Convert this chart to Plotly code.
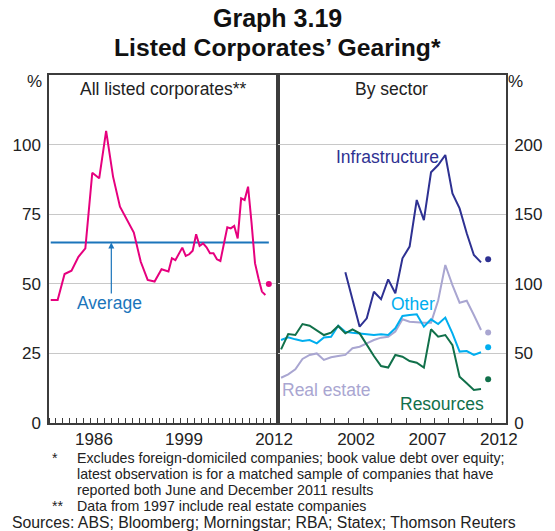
import plotly.graph_objects as go

# Left panel: all listed corporates (annual to 1996, half-yearly after)
all_dates = [1980.25, 1981.25, 1982.25, 1983.25, 1984.25, 1985.25, 1986.25, 1987.25,
             1988.25, 1989.25, 1990.25, 1991.25, 1992.25, 1993.25, 1994.25, 1995.25,
             1996.25, 1997.25, 1997.75, 1998.25, 1998.75, 1999.25, 1999.75, 2000.25,
             2000.75, 2001.25, 2001.75, 2002.25, 2002.75, 2003.25, 2003.75, 2004.25,
             2004.75, 2005.25, 2005.75, 2006.25, 2006.75, 2007.25, 2007.75, 2008.25,
             2008.75, 2009.25, 2009.75, 2010.25, 2010.75, 2011.25]
all_corp = [44.2, 44.2, 53.5, 54.7, 59.7, 62.7, 89.9, 87.9, 104.9, 88.5, 77.7, 72.9,
            68.4, 57.9, 51.4, 50.8, 55.2, 54.4, 59.2, 58.5, 61.0, 63.0, 60.0, 60.6,
            61.9, 67.8, 63.6, 64.5, 63.1, 61.0, 61.0, 58.8, 58.2, 64.5, 70.3, 69.9,
            70.8, 66.3, 80.7, 80.1, 84.9, 72.0, 57.4, 52.0, 47.2, 46.0]
all_latest = 49.9
average = 64.8
average_span = [1980.25, 2011.75]

# Right panel: by sector (half-yearly)
sector_dates = [1997.25, 1997.75, 1998.25, 1998.75, 1999.25, 1999.75, 2000.25, 2000.75,
                2001.25, 2001.75, 2002.25, 2002.75, 2003.25, 2003.75, 2004.25, 2004.75,
                2005.25, 2005.75, 2006.25, 2006.75, 2007.25, 2007.75, 2008.25, 2008.75,
                2009.25, 2009.75, 2010.25, 2010.75, 2011.25]
resources = [52.9, 63.9, 63.2, 71.1, 69.9, 66.3, 63.2, 64.9, 69.7, 64.4, 67.3, 64.4,
             56.0, 48.1, 40.9, 39.8, 48.9, 47.6, 44.5, 43.3, 39.8, 67.3, 62.0, 63.2,
             56.0, 33.3, 28.5, 23.7, 24.4]
other = [59.6, 61.5, 60.1, 58.9, 59.6, 57.2, 61.5, 62.0, 69.9, 65.6, 64.9, 64.4,
         63.7, 63.2, 63.7, 63.2, 68.0, 76.9, 77.6, 78.1, 69.2, 74.5, 71.1, 75.7,
         64.4, 51.3, 51.7, 48.9, 50.8]
real_estate = [32.5, 34.9, 38.5, 46.0, 48.9, 50.0, 45.3, 47.2, 48.1, 48.9, 53.7, 54.8,
               57.2, 59.6, 61.3, 62.0, 65.6, 74.5, 72.8, 72.3, 72.1, 72.1, 88.0, 113.5,
               99.0, 86.4, 87.8, 77.6, 66.8]
infra_dates = [2001.75, 2002.25, 2002.75, 2003.25, 2003.75, 2004.25, 2004.75, 2005.25,
               2005.75, 2006.25, 2006.75, 2007.25, 2007.75, 2008.25, 2008.75, 2009.25,
               2009.75, 2010.25, 2010.75, 2011.25]
infrastructure = [108.3, 88.4, 69.2, 75.2, 94.3, 88.9, 103.2, 93.2, 118.3, 126.7, 160.2,
                  145.8, 180.1, 185.3, 192.5, 165.0, 154.2, 136.3, 120.7, 115.4]
latest_date = 2011.75
sector_latest = {"Infrastructure": 117.6, "Real estate": 65.1, "Other": 54.4, "Resources": 31.4}

# Axis labels
left_ticks = [1986.5, 1999.5, 2012.5]
left_ticktext = ["1986", "1999", "2012"]
right_ticks = [2002.5, 2007.5, 2012.5]
right_ticktext = ["2002", "2007", "2012"]
left_yticks = [0, 25, 50, 75, 100]
right_yticks = [0, 50, 100, 150, 200]

FONT = "Arial, Liberation Sans, sans-serif"
PINK = "#e6007e"
AVG = "#1b75bb"
NAVY = "#2e3192"
CYAN = "#00aeef"
LAV = "#a9a6d1"
GREEN = "#11704a"

fig = go.Figure()

# Left panel
fig.add_trace(go.Scatter(x=average_span, y=[average, average], mode="lines",
                         line=dict(color=AVG, width=2), xaxis="x", yaxis="y"))
fig.add_trace(go.Scatter(x=all_dates, y=all_corp, mode="lines",
                         line=dict(color=PINK, width=2), xaxis="x", yaxis="y"))
fig.add_trace(go.Scatter(x=[latest_date], y=[all_latest], mode="markers",
                         marker=dict(color=PINK, size=6), xaxis="x", yaxis="y"))

# Right panel
sectors = [
    ("Real estate", sector_dates, real_estate, LAV),
    ("Other", sector_dates, other, CYAN),
    ("Resources", sector_dates, resources, GREEN),
    ("Infrastructure", infra_dates, infrastructure, NAVY),
]
for name, xs, ys, col in sectors:
    fig.add_trace(go.Scatter(x=xs, y=ys, mode="lines", name=name,
                             line=dict(color=col, width=2), xaxis="x2", yaxis="y2"))
    fig.add_trace(go.Scatter(x=[latest_date], y=[sector_latest[name]], mode="markers",
                             marker=dict(color=col, size=6), xaxis="x2", yaxis="y2"))

axis_line = dict(showline=True, linecolor="#3c3c3c", linewidth=1.5, mirror=True)
tick_font = dict(family=FONT, size=17, color="#222")

fig.update_layout(
    width=555, height=531,
    margin=dict(l=43, r=38, t=75, b=108),
    paper_bgcolor="white", plot_bgcolor="white",
    showlegend=False,
    font=dict(family=FONT, color="#222"),
    xaxis=dict(domain=[0, 0.5], range=[1980, 2013], anchor="y",
               tickmode="array", tickvals=left_ticks, ticktext=left_ticktext,
               ticks="", showgrid=False, zeroline=False, tickfont=tick_font,
               minor=dict(tickmode="linear", tick0=1980, dtick=1, ticks="inside",
                          ticklen=5, tickcolor="#3c3c3c", showgrid=False),
               **axis_line),
    xaxis2=dict(domain=[0.5, 1], range=[1997, 2013], anchor="y2",
                tickmode="array", tickvals=right_ticks, ticktext=right_ticktext,
                ticks="", showgrid=False, zeroline=False, tickfont=tick_font,
                minor=dict(tickmode="linear", tick0=1997, dtick=1, ticks="inside",
                           ticklen=5, tickcolor="#3c3c3c", showgrid=False),
                **axis_line),
    yaxis=dict(range=[0, 125], anchor="x", tickmode="array", tickvals=left_yticks,
               ticks="", showgrid=True, gridcolor="#c8c8c8", gridwidth=1,
               zeroline=False, tickfont=tick_font, ticklabelstandoff=3, **axis_line),
    yaxis2=dict(range=[0, 250], anchor="x2", side="right", tickmode="array",
                tickvals=right_yticks, ticks="", showgrid=True, gridcolor="#c8c8c8",
                gridwidth=1, zeroline=False, tickfont=tick_font, ticklabelstandoff=3,
                **axis_line),
)


def note(text, x, y, size, color="#222", xref="paper", yref="paper", xanchor="center"):
    fig.add_annotation(text=text, x=x, y=y, xref=xref, yref=yref, showarrow=False,
                       xanchor=xanchor, yanchor="middle",
                       font=dict(size=size, family=FONT, color=color))


def px_x(px):
    return (px - 43) / 474


def px_y(py):
    return (423 - py) / 348


# Titles
note("<b>Graph 3.19</b>", 0.5, px_y(18), 25, "#111")
note("<b>Listed Corporates’ Gearing*</b>", 0.5, px_y(48), 24.7, "#111")

# Panel titles
note("All listed corporates**", 0.5, px_y(89), 17.5, xref="x domain")
note("By sector", 0.5, px_y(89), 17.5, xref="x2 domain")

# % unit labels
note("%", px_x(28), px_y(82), 17)
note("%", px_x(527), px_y(82), 17)

# Average annotation
fig.add_annotation(x=1989, y=average, ax=1989, ay=46, xref="x", yref="y",
                   axref="x", ayref="y", showarrow=True, arrowhead=2, arrowsize=1,
                   arrowwidth=1.2, arrowcolor=AVG, text="")
note("Average", 1988.8, 43.1, 17.5, AVG, xref="x", yref="y")

# Series labels
labels = [
    ("Infrastructure", 2004.7, (423 - 157) / 1.392, NAVY),
    ("Other", 2006.5, (423 - 304) / 1.392, CYAN),
    ("Real estate", 2000.4, (423 - 390) / 1.392, LAV),
    ("Resources", 2008.5, (423 - 404) / 1.392, GREEN),
]
for txt, lx, ly, col in labels:
    note(txt, lx, ly, 17.5, col, xref="x2", yref="y2")

# Footnotes
notes = [
    (44, 458, "*", 14.2),
    (70, 458, "Excludes foreign-domiciled companies; book value debt over equity;", 14.2),
    (70, 474, "latest observation is for a matched sample of companies that have", 14.2),
    (70, 490, "reported both June and December 2011 results", 14.2),
    (44, 506, "**", 14.2),
    (70, 506, "Data from 1997 include real estate companies", 14.2),
    (3, 522, "Sources: ABS; Bloomberg; Morningstar; RBA; Statex; Thomson Reuters", 15.8),
]
for px, py, txt, fs in notes:
    note(txt, px_x(px), px_y(py), fs, xanchor="left")

fig.write_html("out.html", config={"displayModeBar": False},
               post_script="document.body.style.margin='0';")
